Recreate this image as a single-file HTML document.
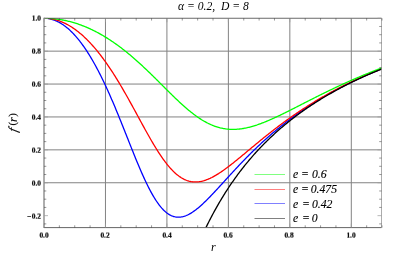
<!DOCTYPE html>
<html><head><meta charset="utf-8"><style>
html,body{margin:0;padding:0;background:#fff}
body{width:415px;height:260px;position:relative;overflow:hidden;font-family:"Liberation Serif",serif;color:#000}
.tl{position:absolute;will-change:transform;font-size:7.4px;font-weight:bold;line-height:9px;transform:scaleY(0.86);-webkit-text-stroke:0.2px #000;white-space:nowrap}
.lg{font-size:11.7px;line-height:14px;-webkit-text-stroke:0.15px #000}
.it{position:absolute;will-change:transform;font-style:italic;white-space:nowrap}
</style></head><body>
<svg width="415" height="260" viewBox="0 0 415 260" style="position:absolute;left:0;top:0"><defs><clipPath id="c"><rect x="44.0" y="18.25" width="337.50" height="209.35"/></clipPath></defs><path d="M105.46,18.25V227.6M166.92,18.25V227.6M228.38,18.25V227.6M289.84,18.25V227.6M351.30,18.25V227.6M44.0,182.75H381.50M44.0,149.85H381.50M44.0,116.95H381.50M44.0,84.05H381.50M44.0,51.15H381.50" stroke="#828282" stroke-width="1" fill="none"/><g clip-path="url(#c)" fill="none" stroke-width="1.3" stroke-linejoin="round"><path d="M44.03,18.25 L44.88,18.26 L45.72,18.30 L46.57,18.37 L47.42,18.46 L48.27,18.58 L49.11,18.72 L49.96,18.89 L50.81,19.08 L51.65,19.30 L52.50,19.55 L53.35,19.82 L54.20,20.11 L55.04,20.44 L55.89,20.78 L56.74,21.16 L57.58,21.56 L58.43,21.98 L59.28,22.43 L60.13,22.91 L60.97,23.41 L61.82,23.94 L62.67,24.50 L63.51,25.08 L64.36,25.68 L65.21,26.31 L66.06,26.97 L66.90,27.65 L67.75,28.36 L68.60,29.09 L69.44,29.85 L70.29,30.64 L71.14,31.45 L71.99,32.29 L72.83,33.15 L73.68,34.04 L74.53,34.95 L75.37,35.89 L76.22,36.86 L77.07,37.85 L77.92,38.86 L78.76,39.90 L79.61,40.97 L80.46,42.06 L81.30,43.18 L82.15,44.33 L83.00,45.50 L83.85,46.69 L84.69,47.91 L85.54,49.16 L86.39,50.43 L87.23,51.72 L88.08,53.04 L88.93,54.39 L89.77,55.76 L90.62,57.16 L91.47,58.58 L92.32,60.02 L93.16,61.49 L94.01,62.99 L94.86,64.51 L95.70,66.05 L96.55,67.62 L97.40,69.21 L98.25,70.82 L99.09,72.46 L99.94,74.12 L100.79,75.80 L101.63,77.51 L102.48,79.24 L103.33,80.99 L104.18,82.76 L105.02,84.56 L105.87,86.37 L106.72,88.21 L107.56,90.07 L108.41,91.94 L109.26,93.84 L110.11,95.75 L110.95,97.69 L111.80,99.64 L112.65,101.60 L113.49,103.59 L114.34,105.59 L115.19,107.61 L116.04,109.64 L116.88,111.68 L117.73,113.74 L118.58,115.81 L119.42,117.89 L120.27,119.98 L121.12,122.08 L121.97,124.19 L122.81,126.31 L123.66,128.43 L124.51,130.56 L125.35,132.69 L126.20,134.83 L127.05,136.96 L127.90,139.10 L128.74,141.24 L129.59,143.37 L130.44,145.50 L131.28,147.63 L132.13,149.75 L132.98,151.86 L133.83,153.96 L134.67,156.05 L135.52,158.13 L136.37,160.20 L137.21,162.24 L138.06,164.28 L138.91,166.29 L139.75,168.28 L140.60,170.25 L141.45,172.20 L142.30,174.12 L143.14,176.02 L143.99,177.88 L144.84,179.72 L145.68,181.53 L146.53,183.30 L147.38,185.04 L148.23,186.74 L149.07,188.40 L149.92,190.03 L150.77,191.62 L151.61,193.16 L152.46,194.66 L153.31,196.12 L154.16,197.54 L155.00,198.91 L155.85,200.23 L156.70,201.51 L157.54,202.74 L158.39,203.92 L159.24,205.05 L160.09,206.13 L160.93,207.16 L161.78,208.14 L162.63,209.07 L163.47,209.94 L164.32,210.77 L165.17,211.54 L166.02,212.27 L166.86,212.94 L167.71,213.56 L168.56,214.13 L169.40,214.65 L170.25,215.12 L171.10,215.54 L171.95,215.92 L172.79,216.24 L173.64,216.52 L174.49,216.74 L175.33,216.93 L176.18,217.06 L177.03,217.16 L177.88,217.20 L178.72,217.21 L179.57,217.17 L180.42,217.10 L181.26,216.98 L182.11,216.82 L182.96,216.63 L183.80,216.40 L184.65,216.13 L185.50,215.83 L186.35,215.50 L187.19,215.13 L188.04,214.73 L188.89,214.30 L189.73,213.84 L190.58,213.36 L191.43,212.84 L192.28,212.31 L193.12,211.74 L193.97,211.15 L194.82,210.54 L195.66,209.91 L196.51,209.26 L197.36,208.58 L198.21,207.89 L199.05,207.18 L199.90,206.45 L200.75,205.71 L201.59,204.95 L202.44,204.17 L203.29,203.38 L204.14,202.58 L204.98,201.77 L205.83,200.95 L206.68,200.11 L207.52,199.26 L208.37,198.41 L209.22,197.55 L210.07,196.68 L210.91,195.80 L211.76,194.91 L212.61,194.02 L213.45,193.12 L214.30,192.22 L215.15,191.31 L216.00,190.40 L216.84,189.49 L217.69,188.57 L218.54,187.65 L219.38,186.73 L220.23,185.80 L221.08,184.87 L221.93,183.95 L222.77,183.02 L223.62,182.09 L224.47,181.16 L225.31,180.23 L226.16,179.30 L227.01,178.37 L227.85,177.44 L228.70,176.52 L229.55,175.59 L230.40,174.67 L231.24,173.75 L232.09,172.83 L232.94,171.91 L233.78,170.99 L234.63,170.08 L235.48,169.17 L236.33,168.26 L237.17,167.36 L238.02,166.46 L238.87,165.56 L239.71,164.67 L240.56,163.78 L241.41,162.89 L242.26,162.01 L243.10,161.13 L243.95,160.25 L244.80,159.38 L245.64,158.51 L246.49,157.65 L247.34,156.79 L248.19,155.93 L249.03,155.08 L249.88,154.23 L250.73,153.39 L251.57,152.55 L252.42,151.72 L253.27,150.89 L254.12,150.07 L254.96,149.25 L255.81,148.43 L256.66,147.62 L257.50,146.81 L258.35,146.01 L259.20,145.22 L260.05,144.42 L260.89,143.63 L261.74,142.85 L262.59,142.07 L263.43,141.30 L264.28,140.53 L265.13,139.76 L265.98,139.00 L266.82,138.25 L267.67,137.50 L268.52,136.75 L269.36,136.01 L270.21,135.27 L271.06,134.54 L271.90,133.81 L272.75,133.09 L273.60,132.37 L274.45,131.65 L275.29,130.94 L276.14,130.24 L276.99,129.53 L277.83,128.84 L278.68,128.14 L279.53,127.46 L280.38,126.77 L281.22,126.09 L282.07,125.42 L282.92,124.75 L283.76,124.08 L284.61,123.42 L285.46,122.76 L286.31,122.10 L287.15,121.45 L288.00,120.81 L288.85,120.16 L289.69,119.53 L290.54,118.89 L291.39,118.26 L292.24,117.64 L293.08,117.01 L293.93,116.39 L294.78,115.78 L295.62,115.17 L296.47,114.56 L297.32,113.96 L298.17,113.36 L299.01,112.77 L299.86,112.17 L300.71,111.59 L301.55,111.00 L302.40,110.42 L303.25,109.84 L304.10,109.27 L304.94,108.70 L305.79,108.13 L306.64,107.57 L307.48,107.01 L308.33,106.45 L309.18,105.90 L310.03,105.35 L310.87,104.81 L311.72,104.26 L312.57,103.72 L313.41,103.19 L314.26,102.66 L315.11,102.13 L315.95,101.60 L316.80,101.08 L317.65,100.56 L318.50,100.04 L319.34,99.53 L320.19,99.02 L321.04,98.51 L321.88,98.00 L322.73,97.50 L323.58,97.00 L324.43,96.51 L325.27,96.02 L326.12,95.53 L326.97,95.04 L327.81,94.56 L328.66,94.08 L329.51,93.60 L330.36,93.12 L331.20,92.65 L332.05,92.18 L332.90,91.71 L333.74,91.25 L334.59,90.79 L335.44,90.33 L336.29,89.87 L337.13,89.42 L337.98,88.97 L338.83,88.52 L339.67,88.08 L340.52,87.63 L341.37,87.19 L342.22,86.75 L343.06,86.32 L343.91,85.89 L344.76,85.46 L345.60,85.03 L346.45,84.60 L347.30,84.18 L348.15,83.76 L348.99,83.34 L349.84,82.93 L350.69,82.51 L351.53,82.10 L352.38,81.69 L353.23,81.29 L354.08,80.88 L354.92,80.48 L355.77,80.08 L356.62,79.68 L357.46,79.29 L358.31,78.90 L359.16,78.51 L360.00,78.12 L360.85,77.73 L361.70,77.35 L362.55,76.97 L363.39,76.59 L364.24,76.21 L365.09,75.83 L365.93,75.46 L366.78,75.09 L367.63,74.72 L368.48,74.35 L369.32,73.99 L370.17,73.63 L371.02,73.27 L371.86,72.91 L372.71,72.55 L373.56,72.20 L374.41,71.84 L375.25,71.49 L376.10,71.14 L376.95,70.80 L377.79,70.45 L378.64,70.11 L379.49,69.77 L380.34,69.43 L381.18,69.09 L382.03,68.76 " stroke="#0000ff"/><path d="M44.03,18.25 L44.88,18.26 L45.72,18.28 L46.57,18.33 L47.42,18.39 L48.27,18.46 L49.11,18.55 L49.96,18.66 L50.81,18.79 L51.65,18.93 L52.50,19.09 L53.35,19.26 L54.20,19.45 L55.04,19.66 L55.89,19.89 L56.74,20.13 L57.58,20.39 L58.43,20.66 L59.28,20.95 L60.13,21.26 L60.97,21.58 L61.82,21.93 L62.67,22.28 L63.51,22.66 L64.36,23.05 L65.21,23.46 L66.06,23.88 L66.90,24.32 L67.75,24.78 L68.60,25.25 L69.44,25.74 L70.29,26.25 L71.14,26.78 L71.99,27.32 L72.83,27.87 L73.68,28.45 L74.53,29.04 L75.37,29.64 L76.22,30.27 L77.07,30.91 L77.92,31.56 L78.76,32.24 L79.61,32.93 L80.46,33.63 L81.30,34.36 L82.15,35.10 L83.00,35.85 L83.85,36.62 L84.69,37.41 L85.54,38.22 L86.39,39.04 L87.23,39.88 L88.08,40.73 L88.93,41.60 L89.77,42.49 L90.62,43.40 L91.47,44.32 L92.32,45.25 L93.16,46.21 L94.01,47.17 L94.86,48.16 L95.70,49.16 L96.55,50.18 L97.40,51.21 L98.25,52.26 L99.09,53.33 L99.94,54.41 L100.79,55.50 L101.63,56.62 L102.48,57.74 L103.33,58.89 L104.18,60.05 L105.02,61.22 L105.87,62.41 L106.72,63.61 L107.56,64.83 L108.41,66.07 L109.26,67.32 L110.11,68.58 L110.95,69.86 L111.80,71.15 L112.65,72.45 L113.49,73.77 L114.34,75.11 L115.19,76.45 L116.04,77.81 L116.88,79.18 L117.73,80.57 L118.58,81.96 L119.42,83.37 L120.27,84.79 L121.12,86.22 L121.97,87.66 L122.81,89.12 L123.66,90.58 L124.51,92.05 L125.35,93.53 L126.20,95.02 L127.05,96.52 L127.90,98.03 L128.74,99.55 L129.59,101.07 L130.44,102.60 L131.28,104.13 L132.13,105.67 L132.98,107.21 L133.83,108.76 L134.67,110.31 L135.52,111.87 L136.37,113.43 L137.21,114.99 L138.06,116.54 L138.91,118.10 L139.75,119.66 L140.60,121.22 L141.45,122.78 L142.30,124.33 L143.14,125.88 L143.99,127.42 L144.84,128.96 L145.68,130.49 L146.53,132.01 L147.38,133.53 L148.23,135.03 L149.07,136.53 L149.92,138.02 L150.77,139.49 L151.61,140.95 L152.46,142.40 L153.31,143.83 L154.16,145.25 L155.00,146.65 L155.85,148.03 L156.70,149.40 L157.54,150.75 L158.39,152.07 L159.24,153.38 L160.09,154.66 L160.93,155.92 L161.78,157.16 L162.63,158.37 L163.47,159.56 L164.32,160.73 L165.17,161.86 L166.02,162.97 L166.86,164.05 L167.71,165.11 L168.56,166.13 L169.40,167.12 L170.25,168.09 L171.10,169.02 L171.95,169.92 L172.79,170.79 L173.64,171.63 L174.49,172.44 L175.33,173.21 L176.18,173.96 L177.03,174.66 L177.88,175.34 L178.72,175.98 L179.57,176.59 L180.42,177.16 L181.26,177.71 L182.11,178.21 L182.96,178.69 L183.80,179.13 L184.65,179.54 L185.50,179.91 L186.35,180.26 L187.19,180.57 L188.04,180.84 L188.89,181.09 L189.73,181.31 L190.58,181.49 L191.43,181.64 L192.28,181.77 L193.12,181.86 L193.97,181.92 L194.82,181.96 L195.66,181.96 L196.51,181.94 L197.36,181.90 L198.21,181.82 L199.05,181.72 L199.90,181.59 L200.75,181.44 L201.59,181.27 L202.44,181.07 L203.29,180.84 L204.14,180.60 L204.98,180.33 L205.83,180.04 L206.68,179.73 L207.52,179.41 L208.37,179.06 L209.22,178.69 L210.07,178.31 L210.91,177.90 L211.76,177.49 L212.61,177.05 L213.45,176.60 L214.30,176.13 L215.15,175.65 L216.00,175.16 L216.84,174.65 L217.69,174.13 L218.54,173.60 L219.38,173.05 L220.23,172.50 L221.08,171.93 L221.93,171.35 L222.77,170.77 L223.62,170.17 L224.47,169.57 L225.31,168.96 L226.16,168.33 L227.01,167.71 L227.85,167.07 L228.70,166.43 L229.55,165.78 L230.40,165.13 L231.24,164.47 L232.09,163.81 L232.94,163.14 L233.78,162.46 L234.63,161.79 L235.48,161.10 L236.33,160.42 L237.17,159.73 L238.02,159.04 L238.87,158.35 L239.71,157.65 L240.56,156.95 L241.41,156.26 L242.26,155.55 L243.10,154.85 L243.95,154.15 L244.80,153.44 L245.64,152.74 L246.49,152.03 L247.34,151.33 L248.19,150.62 L249.03,149.91 L249.88,149.21 L250.73,148.50 L251.57,147.80 L252.42,147.09 L253.27,146.39 L254.12,145.69 L254.96,144.98 L255.81,144.28 L256.66,143.58 L257.50,142.89 L258.35,142.19 L259.20,141.49 L260.05,140.80 L260.89,140.11 L261.74,139.42 L262.59,138.73 L263.43,138.05 L264.28,137.36 L265.13,136.68 L265.98,136.00 L266.82,135.33 L267.67,134.65 L268.52,133.98 L269.36,133.31 L270.21,132.64 L271.06,131.98 L271.90,131.32 L272.75,130.66 L273.60,130.00 L274.45,129.35 L275.29,128.70 L276.14,128.05 L276.99,127.40 L277.83,126.76 L278.68,126.12 L279.53,125.48 L280.38,124.85 L281.22,124.22 L282.07,123.59 L282.92,122.97 L283.76,122.34 L284.61,121.72 L285.46,121.11 L286.31,120.49 L287.15,119.88 L288.00,119.28 L288.85,118.67 L289.69,118.07 L290.54,117.47 L291.39,116.88 L292.24,116.29 L293.08,115.70 L293.93,115.11 L294.78,114.53 L295.62,113.95 L296.47,113.37 L297.32,112.80 L298.17,112.22 L299.01,111.66 L299.86,111.09 L300.71,110.53 L301.55,109.97 L302.40,109.41 L303.25,108.86 L304.10,108.31 L304.94,107.76 L305.79,107.22 L306.64,106.68 L307.48,106.14 L308.33,105.60 L309.18,105.07 L310.03,104.54 L310.87,104.01 L311.72,103.49 L312.57,102.97 L313.41,102.45 L314.26,101.93 L315.11,101.42 L315.95,100.91 L316.80,100.40 L317.65,99.90 L318.50,99.40 L319.34,98.90 L320.19,98.40 L321.04,97.91 L321.88,97.42 L322.73,96.93 L323.58,96.44 L324.43,95.96 L325.27,95.48 L326.12,95.00 L326.97,94.53 L327.81,94.05 L328.66,93.58 L329.51,93.12 L330.36,92.65 L331.20,92.19 L332.05,91.73 L332.90,91.27 L333.74,90.82 L334.59,90.37 L335.44,89.92 L336.29,89.47 L337.13,89.03 L337.98,88.58 L338.83,88.14 L339.67,87.71 L340.52,87.27 L341.37,86.84 L342.22,86.41 L343.06,85.98 L343.91,85.55 L344.76,85.13 L345.60,84.71 L346.45,84.29 L347.30,83.88 L348.15,83.46 L348.99,83.05 L349.84,82.64 L350.69,82.23 L351.53,81.83 L352.38,81.42 L353.23,81.02 L354.08,80.63 L354.92,80.23 L355.77,79.83 L356.62,79.44 L357.46,79.05 L358.31,78.66 L359.16,78.28 L360.00,77.90 L360.85,77.51 L361.70,77.13 L362.55,76.76 L363.39,76.38 L364.24,76.01 L365.09,75.64 L365.93,75.27 L366.78,74.90 L367.63,74.54 L368.48,74.17 L369.32,73.81 L370.17,73.45 L371.02,73.10 L371.86,72.74 L372.71,72.39 L373.56,72.04 L374.41,71.69 L375.25,71.34 L376.10,70.99 L376.95,70.65 L377.79,70.31 L378.64,69.97 L379.49,69.63 L380.34,69.29 L381.18,68.96 L382.03,68.63 " stroke="#ff0000"/><path d="M44.03,18.25 L44.88,18.25 L45.72,18.26 L46.57,18.28 L47.42,18.31 L48.27,18.34 L49.11,18.38 L49.96,18.43 L50.81,18.48 L51.65,18.54 L52.50,18.61 L53.35,18.69 L54.20,18.77 L55.04,18.86 L55.89,18.96 L56.74,19.06 L57.58,19.17 L58.43,19.29 L59.28,19.42 L60.13,19.55 L60.97,19.69 L61.82,19.84 L62.67,19.99 L63.51,20.15 L64.36,20.32 L65.21,20.50 L66.06,20.68 L66.90,20.87 L67.75,21.07 L68.60,21.27 L69.44,21.48 L70.29,21.70 L71.14,21.93 L71.99,22.16 L72.83,22.40 L73.68,22.65 L74.53,22.90 L75.37,23.16 L76.22,23.43 L77.07,23.71 L77.92,23.99 L78.76,24.28 L79.61,24.58 L80.46,24.89 L81.30,25.20 L82.15,25.52 L83.00,25.84 L83.85,26.18 L84.69,26.52 L85.54,26.86 L86.39,27.22 L87.23,27.58 L88.08,27.95 L88.93,28.33 L89.77,28.71 L90.62,29.10 L91.47,29.50 L92.32,29.90 L93.16,30.31 L94.01,30.73 L94.86,31.16 L95.70,31.59 L96.55,32.03 L97.40,32.48 L98.25,32.94 L99.09,33.40 L99.94,33.87 L100.79,34.34 L101.63,34.82 L102.48,35.31 L103.33,35.81 L104.18,36.32 L105.02,36.83 L105.87,37.34 L106.72,37.87 L107.56,38.40 L108.41,38.94 L109.26,39.49 L110.11,40.04 L110.95,40.60 L111.80,41.17 L112.65,41.74 L113.49,42.32 L114.34,42.91 L115.19,43.50 L116.04,44.10 L116.88,44.71 L117.73,45.32 L118.58,45.94 L119.42,46.57 L120.27,47.20 L121.12,47.85 L121.97,48.49 L122.81,49.15 L123.66,49.81 L124.51,50.47 L125.35,51.15 L126.20,51.82 L127.05,52.51 L127.90,53.20 L128.74,53.90 L129.59,54.60 L130.44,55.31 L131.28,56.03 L132.13,56.75 L132.98,57.48 L133.83,58.21 L134.67,58.95 L135.52,59.69 L136.37,60.44 L137.21,61.19 L138.06,61.95 L138.91,62.72 L139.75,63.49 L140.60,64.26 L141.45,65.04 L142.30,65.83 L143.14,66.62 L143.99,67.41 L144.84,68.21 L145.68,69.01 L146.53,69.81 L147.38,70.62 L148.23,71.44 L149.07,72.25 L149.92,73.07 L150.77,73.90 L151.61,74.72 L152.46,75.55 L153.31,76.38 L154.16,77.21 L155.00,78.05 L155.85,78.89 L156.70,79.73 L157.54,80.57 L158.39,81.41 L159.24,82.26 L160.09,83.10 L160.93,83.95 L161.78,84.79 L162.63,85.64 L163.47,86.48 L164.32,87.33 L165.17,88.18 L166.02,89.02 L166.86,89.86 L167.71,90.70 L168.56,91.54 L169.40,92.38 L170.25,93.22 L171.10,94.05 L171.95,94.88 L172.79,95.71 L173.64,96.53 L174.49,97.35 L175.33,98.16 L176.18,98.98 L177.03,99.78 L177.88,100.58 L178.72,101.38 L179.57,102.17 L180.42,102.95 L181.26,103.73 L182.11,104.50 L182.96,105.26 L183.80,106.02 L184.65,106.77 L185.50,107.51 L186.35,108.24 L187.19,108.97 L188.04,109.68 L188.89,110.39 L189.73,111.08 L190.58,111.77 L191.43,112.45 L192.28,113.11 L193.12,113.77 L193.97,114.41 L194.82,115.05 L195.66,115.67 L196.51,116.28 L197.36,116.87 L198.21,117.46 L199.05,118.03 L199.90,118.59 L200.75,119.14 L201.59,119.68 L202.44,120.20 L203.29,120.71 L204.14,121.20 L204.98,121.68 L205.83,122.15 L206.68,122.60 L207.52,123.04 L208.37,123.46 L209.22,123.87 L210.07,124.27 L210.91,124.65 L211.76,125.01 L212.61,125.36 L213.45,125.70 L214.30,126.02 L215.15,126.33 L216.00,126.62 L216.84,126.89 L217.69,127.15 L218.54,127.40 L219.38,127.63 L220.23,127.85 L221.08,128.05 L221.93,128.24 L222.77,128.41 L223.62,128.57 L224.47,128.71 L225.31,128.84 L226.16,128.96 L227.01,129.06 L227.85,129.15 L228.70,129.22 L229.55,129.28 L230.40,129.33 L231.24,129.36 L232.09,129.38 L232.94,129.38 L233.78,129.38 L234.63,129.36 L235.48,129.33 L236.33,129.28 L237.17,129.22 L238.02,129.16 L238.87,129.08 L239.71,128.98 L240.56,128.88 L241.41,128.77 L242.26,128.64 L243.10,128.50 L243.95,128.36 L244.80,128.20 L245.64,128.03 L246.49,127.85 L247.34,127.67 L248.19,127.47 L249.03,127.27 L249.88,127.05 L250.73,126.83 L251.57,126.60 L252.42,126.35 L253.27,126.11 L254.12,125.85 L254.96,125.59 L255.81,125.31 L256.66,125.04 L257.50,124.75 L258.35,124.46 L259.20,124.16 L260.05,123.85 L260.89,123.54 L261.74,123.22 L262.59,122.90 L263.43,122.57 L264.28,122.23 L265.13,121.89 L265.98,121.55 L266.82,121.20 L267.67,120.84 L268.52,120.48 L269.36,120.12 L270.21,119.75 L271.06,119.38 L271.90,119.00 L272.75,118.62 L273.60,118.24 L274.45,117.85 L275.29,117.46 L276.14,117.07 L276.99,116.67 L277.83,116.27 L278.68,115.87 L279.53,115.47 L280.38,115.06 L281.22,114.65 L282.07,114.24 L282.92,113.83 L283.76,113.41 L284.61,113.00 L285.46,112.58 L286.31,112.16 L287.15,111.73 L288.00,111.31 L288.85,110.89 L289.69,110.46 L290.54,110.04 L291.39,109.61 L292.24,109.18 L293.08,108.75 L293.93,108.32 L294.78,107.89 L295.62,107.46 L296.47,107.03 L297.32,106.59 L298.17,106.16 L299.01,105.73 L299.86,105.30 L300.71,104.86 L301.55,104.43 L302.40,104.00 L303.25,103.56 L304.10,103.13 L304.94,102.70 L305.79,102.27 L306.64,101.84 L307.48,101.40 L308.33,100.97 L309.18,100.54 L310.03,100.11 L310.87,99.68 L311.72,99.25 L312.57,98.82 L313.41,98.40 L314.26,97.97 L315.11,97.54 L315.95,97.12 L316.80,96.69 L317.65,96.27 L318.50,95.84 L319.34,95.42 L320.19,95.00 L321.04,94.58 L321.88,94.16 L322.73,93.74 L323.58,93.33 L324.43,92.91 L325.27,92.49 L326.12,92.08 L326.97,91.67 L327.81,91.26 L328.66,90.85 L329.51,90.44 L330.36,90.03 L331.20,89.62 L332.05,89.22 L332.90,88.81 L333.74,88.41 L334.59,88.01 L335.44,87.61 L336.29,87.21 L337.13,86.81 L337.98,86.42 L338.83,86.02 L339.67,85.63 L340.52,85.24 L341.37,84.85 L342.22,84.46 L343.06,84.07 L343.91,83.68 L344.76,83.30 L345.60,82.91 L346.45,82.53 L347.30,82.15 L348.15,81.77 L348.99,81.40 L349.84,81.02 L350.69,80.65 L351.53,80.27 L352.38,79.90 L353.23,79.53 L354.08,79.16 L354.92,78.80 L355.77,78.43 L356.62,78.07 L357.46,77.71 L358.31,77.34 L359.16,76.99 L360.00,76.63 L360.85,76.27 L361.70,75.92 L362.55,75.56 L363.39,75.21 L364.24,74.86 L365.09,74.51 L365.93,74.17 L366.78,73.82 L367.63,73.48 L368.48,73.13 L369.32,72.79 L370.17,72.45 L371.02,72.12 L371.86,71.78 L372.71,71.45 L373.56,71.11 L374.41,70.78 L375.25,70.45 L376.10,70.12 L376.95,69.80 L377.79,69.47 L378.64,69.15 L379.49,68.82 L380.34,68.50 L381.18,68.18 L382.03,67.87 " stroke="#00ff00"/><path d="M189.73,265.51 L190.58,263.28 L191.43,261.08 L192.28,258.91 L193.12,256.77 L193.97,254.65 L194.82,252.57 L195.66,250.52 L196.51,248.49 L197.36,246.49 L198.21,244.51 L199.05,242.56 L199.90,240.64 L200.75,238.74 L201.59,236.87 L202.44,235.02 L203.29,233.19 L204.14,231.39 L204.98,229.61 L205.83,227.85 L206.68,226.11 L207.52,224.40 L208.37,222.70 L209.22,221.03 L210.07,219.38 L210.91,217.74 L211.76,216.13 L212.61,214.53 L213.45,212.96 L214.30,211.40 L215.15,209.86 L216.00,208.34 L216.84,206.84 L217.69,205.35 L218.54,203.89 L219.38,202.43 L220.23,201.00 L221.08,199.58 L221.93,198.18 L222.77,196.79 L223.62,195.41 L224.47,194.06 L225.31,192.72 L226.16,191.39 L227.01,190.07 L227.85,188.77 L228.70,187.49 L229.55,186.22 L230.40,184.96 L231.24,183.71 L232.09,182.48 L232.94,181.26 L233.78,180.06 L234.63,178.86 L235.48,177.68 L236.33,176.51 L237.17,175.35 L238.02,174.21 L238.87,173.07 L239.71,171.95 L240.56,170.84 L241.41,169.74 L242.26,168.65 L243.10,167.57 L243.95,166.50 L244.80,165.44 L245.64,164.39 L246.49,163.35 L247.34,162.32 L248.19,161.30 L249.03,160.29 L249.88,159.29 L250.73,158.30 L251.57,157.32 L252.42,156.35 L253.27,155.39 L254.12,154.43 L254.96,153.48 L255.81,152.55 L256.66,151.62 L257.50,150.70 L258.35,149.79 L259.20,148.88 L260.05,147.98 L260.89,147.10 L261.74,146.22 L262.59,145.34 L263.43,144.48 L264.28,143.62 L265.13,142.77 L265.98,141.92 L266.82,141.09 L267.67,140.26 L268.52,139.44 L269.36,138.62 L270.21,137.81 L271.06,137.01 L271.90,136.22 L272.75,135.43 L273.60,134.65 L274.45,133.87 L275.29,133.10 L276.14,132.34 L276.99,131.58 L277.83,130.83 L278.68,130.08 L279.53,129.34 L280.38,128.61 L281.22,127.88 L282.07,127.16 L282.92,126.44 L283.76,125.73 L284.61,125.03 L285.46,124.33 L286.31,123.63 L287.15,122.94 L288.00,122.26 L288.85,121.58 L289.69,120.90 L290.54,120.24 L291.39,119.57 L292.24,118.91 L293.08,118.26 L293.93,117.61 L294.78,116.96 L295.62,116.32 L296.47,115.69 L297.32,115.06 L298.17,114.43 L299.01,113.81 L299.86,113.19 L300.71,112.58 L301.55,111.97 L302.40,111.37 L303.25,110.77 L304.10,110.17 L304.94,109.58 L305.79,108.99 L306.64,108.41 L307.48,107.83 L308.33,107.25 L309.18,106.68 L310.03,106.11 L310.87,105.55 L311.72,104.99 L312.57,104.43 L313.41,103.88 L314.26,103.33 L315.11,102.79 L315.95,102.24 L316.80,101.71 L317.65,101.17 L318.50,100.64 L319.34,100.11 L320.19,99.59 L321.04,99.07 L321.88,98.55 L322.73,98.04 L323.58,97.53 L324.43,97.02 L325.27,96.52 L326.12,96.02 L326.97,95.52 L327.81,95.02 L328.66,94.53 L329.51,94.04 L330.36,93.56 L331.20,93.08 L332.05,92.60 L332.90,92.12 L333.74,91.65 L334.59,91.18 L335.44,90.71 L336.29,90.25 L337.13,89.78 L337.98,89.33 L338.83,88.87 L339.67,88.42 L340.52,87.97 L341.37,87.52 L342.22,87.07 L343.06,86.63 L343.91,86.19 L344.76,85.76 L345.60,85.32 L346.45,84.89 L347.30,84.46 L348.15,84.03 L348.99,83.61 L349.84,83.19 L350.69,82.77 L351.53,82.35 L352.38,81.94 L353.23,81.53 L354.08,81.12 L354.92,80.71 L355.77,80.31 L356.62,79.91 L357.46,79.51 L358.31,79.11 L359.16,78.72 L360.00,78.32 L360.85,77.93 L361.70,77.55 L362.55,77.16 L363.39,76.78 L364.24,76.39 L365.09,76.02 L365.93,75.64 L366.78,75.26 L367.63,74.89 L368.48,74.52 L369.32,74.15 L370.17,73.79 L371.02,73.42 L371.86,73.06 L372.71,72.70 L373.56,72.34 L374.41,71.99 L375.25,71.64 L376.10,71.28 L376.95,70.93 L377.79,70.59 L378.64,70.24 L379.49,69.90 L380.34,69.56 L381.18,69.22 L382.03,68.88 " stroke="#000000"/></g><path d="M44.0,17.75V228.1" stroke="#787878" stroke-width="1.2" fill="none"/><path d="M44.0,18.25H381.5" stroke="#444" stroke-width="0.8" fill="none"/><path d="M44.0,227.6H381.5" stroke="#666" stroke-width="1" fill="none"/><path d="M381.5,18.25V227.6" stroke="#888" stroke-width="0.7" fill="none"/><path d="M44.00,227.6v-4.0M44.00,18.25v4.0M105.46,227.6v-4.0M105.46,18.25v4.0M166.92,227.6v-4.0M166.92,18.25v4.0M228.38,227.6v-4.0M228.38,18.25v4.0M289.84,227.6v-4.0M289.84,18.25v4.0M351.30,227.6v-4.0M351.30,18.25v4.0M44.0,215.65h4.0M381.50,215.65h-4.0M44.0,182.75h4.0M381.50,182.75h-4.0M44.0,149.85h4.0M381.50,149.85h-4.0M44.0,116.95h4.0M381.50,116.95h-4.0M44.0,84.05h4.0M381.50,84.05h-4.0M44.0,51.15h4.0M381.50,51.15h-4.0M44.0,18.25h4.0M381.50,18.25h-4.0" stroke="#999" stroke-width="0.7" fill="none"/><path d="M59.37,227.6v-2.3M59.37,18.25v2.3M74.73,227.6v-2.3M74.73,18.25v2.3M90.09,227.6v-2.3M90.09,18.25v2.3M120.83,227.6v-2.3M120.83,18.25v2.3M136.19,227.6v-2.3M136.19,18.25v2.3M151.56,227.6v-2.3M151.56,18.25v2.3M182.28,227.6v-2.3M182.28,18.25v2.3M197.65,227.6v-2.3M197.65,18.25v2.3M213.02,227.6v-2.3M213.02,18.25v2.3M243.75,227.6v-2.3M243.75,18.25v2.3M259.11,227.6v-2.3M259.11,18.25v2.3M274.48,227.6v-2.3M274.48,18.25v2.3M305.21,227.6v-2.3M305.21,18.25v2.3M320.57,227.6v-2.3M320.57,18.25v2.3M335.94,227.6v-2.3M335.94,18.25v2.3M366.67,227.6v-2.3M366.67,18.25v2.3M382.03,227.6v-2.3M382.03,18.25v2.3M44.0,223.88h2.3M381.50,223.88h-2.3M44.0,207.43h2.3M381.50,207.43h-2.3M44.0,199.20h2.3M381.50,199.20h-2.3M44.0,190.97h2.3M381.50,190.97h-2.3M44.0,174.53h2.3M381.50,174.53h-2.3M44.0,166.30h2.3M381.50,166.30h-2.3M44.0,158.07h2.3M381.50,158.07h-2.3M44.0,141.62h2.3M381.50,141.62h-2.3M44.0,133.40h2.3M381.50,133.40h-2.3M44.0,125.17h2.3M381.50,125.17h-2.3M44.0,108.72h2.3M381.50,108.72h-2.3M44.0,100.50h2.3M381.50,100.50h-2.3M44.0,92.27h2.3M381.50,92.27h-2.3M44.0,75.83h2.3M381.50,75.83h-2.3M44.0,67.60h2.3M381.50,67.60h-2.3M44.0,59.38h2.3M381.50,59.38h-2.3M44.0,42.92h2.3M381.50,42.92h-2.3M44.0,34.70h2.3M381.50,34.70h-2.3M44.0,26.47h2.3M381.50,26.47h-2.3" stroke="#333" stroke-width="0.5" fill="none"/><path d="M254.5,174.5H285" stroke="#00ff00" stroke-width="0.5" fill="none"/><path d="M254.5,189.5H285" stroke="#ff0000" stroke-width="0.5" fill="none"/><path d="M254.5,203.5H285" stroke="#0000ff" stroke-width="0.5" fill="none"/><path d="M254.5,218.5H285" stroke="#000000" stroke-width="0.5" fill="none"/></svg>
<div class="tl" style="left:33.6px;top:230.5px;width:20px;text-align:center">0.0</div><div class="tl" style="left:95.1px;top:230.5px;width:20px;text-align:center">0.2</div><div class="tl" style="left:156.5px;top:230.5px;width:20px;text-align:center">0.4</div><div class="tl" style="left:218.0px;top:230.5px;width:20px;text-align:center">0.6</div><div class="tl" style="left:279.4px;top:230.5px;width:20px;text-align:center">0.8</div><div class="tl" style="left:340.9px;top:230.5px;width:20px;text-align:center">1.0</div><div class="tl" style="left:10.5px;top:211.8px;width:30px;text-align:right"><span style="margin-right:0.6px">−</span>0.2</div><div class="tl" style="left:10.5px;top:178.9px;width:30px;text-align:right">0.0</div><div class="tl" style="left:10.5px;top:146.0px;width:30px;text-align:right">0.2</div><div class="tl" style="left:10.5px;top:113.2px;width:30px;text-align:right">0.4</div><div class="tl" style="left:10.5px;top:80.2px;width:30px;text-align:right">0.6</div><div class="tl" style="left:10.5px;top:47.4px;width:30px;text-align:right">0.8</div><div class="tl" style="left:10.5px;top:14.4px;width:30px;text-align:right">1.0</div>
<div class="it" style="left:177.5px;top:-0.5px;font-size:11.6px;line-height:14px;white-space:pre">α = 0.2,  D = 8</div>
<div class="it" style="left:210.8px;top:240.4px;font-size:12px;line-height:14px">r</div>
<div id="yl" style="position:absolute;will-change:transform;left:0;top:133.5px;width:0;height:0;transform-origin:0 0;transform:rotate(-90deg);line-height:14px;white-space:nowrap;-webkit-text-stroke:0.15px #000"><span style="position:absolute;left:2.4px;top:5.6px;font-size:12.3px;font-style:italic;display:inline-block;transform:skewX(-13deg);transform-origin:50% 60%">f</span><span style="position:absolute;left:8.5px;top:6.0px;font-size:10.5px">(</span><span style="position:absolute;left:12px;top:5.55px;font-size:12px;font-style:italic">r</span><span style="position:absolute;left:17.2px;top:6.0px;font-size:10.5px">)</span></div>
<div class="it lg" style="left:293px;top:167.6px">e = 0.6</div>
<div class="it lg" style="left:293px;top:182.5px">e =<span style="margin-left:-1.2px"> 0.475</span></div>
<div class="it lg" style="left:293px;top:198.0px">e<span style="margin-left:0.8px"> =</span><span style="margin-left:-0.8px"> 0.42</span></div>
<div class="it lg" style="left:293px;top:212.0px">e<span style="margin-left:0.8px"> =</span><span style="margin-left:-1.1px"> 0</span></div>
</body></html>
